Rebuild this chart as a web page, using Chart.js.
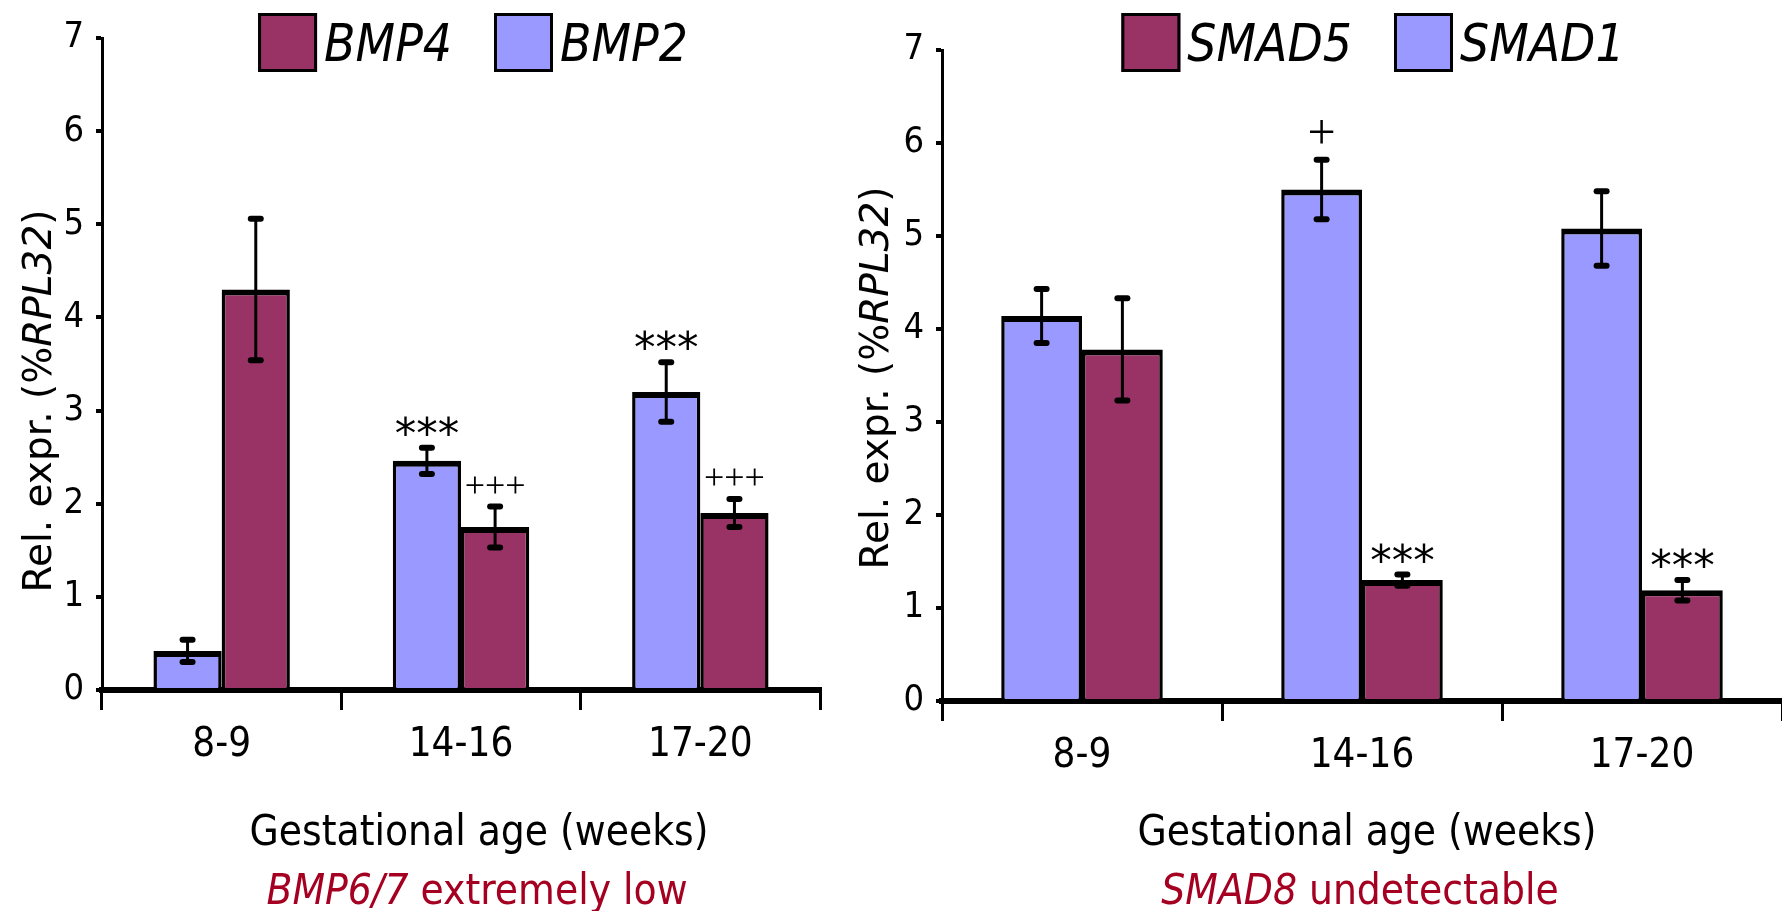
<!DOCTYPE html>
<html>
<head>
<meta charset="utf-8">
<title>BMP / SMAD</title>
<script src="https://cdn.jsdelivr.net/npm/chart.js@4.4.0/dist/chart.umd.min.js"></script>
<style>
    html, body { margin: 0; padding: 0; background: #fff; overflow: hidden; }
    #wrap { position: relative; width: 1782px; height: 911px; }
    .panel { position: absolute; top: 0; height: 911px; }
    #left { left: 0; width: 956px; }
    #right { left: 840px; width: 942px; }
    canvas { display: block; }
</style>
</head>
<body>
<div id="wrap">
    <div class="panel" id="left"><canvas id="bmpChart" width="956" height="911"></canvas></div>
    <div class="panel" id="right"><canvas id="smadChart" width="942" height="911"></canvas></div>
</div>
<script>
// Données
const categories = ['8-9', '14-16', '17-20'];
const yTicks = [0, 1, 2, 3, 4, 5, 6, 7];

const bmp2 = [0.42, 2.46, 3.20];
const bmp2Err = [0.12, 0.14, 0.32];
const bmp2Marks = ['', '***', '***'];
const bmp4 = [4.30, 1.75, 1.90];
const bmp4Err = [0.76, 0.22, 0.15];
const bmp4Marks = ['', '+++', '+++'];

const smad1 = [4.14, 5.50, 5.08];
const smad1Err = [0.29, 0.32, 0.40];
const smad1Marks = ['', '+', ''];
const smad5 = [3.78, 1.30, 1.19];
const smad5Err = [0.55, 0.06, 0.11];
const smad5Marks = ['', '***', '***'];

const BLUE = '#9999ff';
const RED = '#993366';
const NOTE = '#a50021';
const COND = '"DejaVu Sans Condensed", "DejaVu Sans", sans-serif';
const SANS = '"DejaVu Sans", sans-serif';
const SERIF = '"Liberation Serif", serif';

// Texte avec parties en italique, centré sur cx
function drawRich(ctx, parts, cx, baseY, size, family, color) {
    const fonts = parts.map(p => `${p.italic ? 'italic ' : ''}${size}px ${family}`);
    let total = 0;
    const widths = parts.map((p, k) => {
        ctx.font = fonts[k];
        const w = ctx.measureText(p.text).width;
        total += w;
        return w;
    });
    let x = cx - total / 2;
    ctx.fillStyle = color;
    ctx.textAlign = 'left';
    ctx.textBaseline = 'alphabetic';
    parts.forEach((p, k) => {
        ctx.font = fonts[k];
        ctx.fillText(p.text, x, baseY);
        x += widths[k];
    });
}

function drawLegend(chart, cx, top) {
    const ctx = chart.ctx;
    const items = chart.data.datasets.slice().reverse();
    const box = 59, gapText = 7, gapItem = 42;
    ctx.font = `italic 51px ${COND}`;
    const widths = items.map(d => ctx.measureText(d.label).width);
    const total = items.length * (box + gapText) + widths.reduce((a, b) => a + b, 0) + gapItem * (items.length - 1);
    let x = cx - total / 2;
    items.forEach((d, k) => {
        ctx.fillStyle = d.backgroundColor;
        ctx.fillRect(x, top, box, box);
        ctx.lineWidth = 3;
        ctx.strokeStyle = '#000';
        ctx.strokeRect(x + 1.5, top + 1.5, box - 3, box - 3);
        x += box + gapText;
        ctx.fillStyle = '#000';
        ctx.textAlign = 'left';
        ctx.textBaseline = 'alphabetic';
        ctx.font = `italic 51px ${COND}`;
        ctx.fillText(d.label, x, top + 48);
        x += widths[k] + gapItem;
    });
}

const extrasPlugin = {
    id: 'extras',
    afterDatasetsDraw(chart) {
        const ctx = chart.ctx;
        const yScale = chart.scales.y;
        chart.data.datasets.forEach((ds, di) => {
            const meta = chart.getDatasetMeta(di);
            meta.data.forEach((bar, i) => {
                const x = bar.x;
                const yTop = yScale.getPixelForValue(ds.data[i] + ds.errors[i]);
                const yBot = yScale.getPixelForValue(ds.data[i] - ds.errors[i]);
                ctx.save();
                ctx.strokeStyle = '#000';
                ctx.lineWidth = 3;
                ctx.beginPath();
                ctx.moveTo(x, yTop);
                ctx.lineTo(x, yBot);
                ctx.stroke();
                ctx.lineWidth = 6;
                ctx.lineCap = 'round';
                [yTop, yBot].forEach(yy => {
                    ctx.beginPath();
                    ctx.moveTo(x - 5, yy);
                    ctx.lineTo(x + 5, yy);
                    ctx.stroke();
                });
                // étoiles / croix de significativité
                const mark = ds.marks[i];
                if (mark) {
                    const isPlus = mark.startsWith('+');
                    const size = isPlus ? (mark.length === 1 ? 50 : 36) : 43;
                    ctx.font = `${size}px ${isPlus ? SERIF : SANS}`;
                    ctx.textAlign = 'center';
                    ctx.textBaseline = 'alphabetic';
                    const m = ctx.measureText(mark);
                    const centerY = yTop - (mark.length === 1 ? 28 : 22);
                    const base = centerY + (m.actualBoundingBoxAscent - m.actualBoundingBoxDescent) / 2;
                    ctx.fillStyle = '#000';
                    ctx.fillText(mark, x, base);
                }
                ctx.restore();
            });
        });
    },
    afterDraw(chart) {
        const o = chart.options.plugins.extras;
        const ctx = chart.ctx;
        ctx.save();
        drawLegend(chart, o.legendX, 13);
        drawRich(ctx, [{ text: 'Gestational age (weeks)' }], o.xTitleX, 845, 42, COND, '#000');
        drawRich(ctx, o.note, o.noteX, 904, 42, COND, NOTE);
        ctx.translate(o.yTitleX, o.yTitleY);
        ctx.rotate(-Math.PI / 2);
        drawRich(ctx, [{ text: 'Rel. expr. (%' }, { text: 'RPL32', italic: true }, { text: ')' }], 0, 0, 39, SANS, '#000');
        ctx.restore();
    }
};

function makeOptions(extras, chartTop, chartBottom, padRight, catPct) {
    return {
        responsive: false,
        animation: false,
        events: [],
        datasets: { bar: { categoryPercentage: catPct, barPercentage: 1.0 } },
        layout: { padding: { left: 0, right: padRight, top: chartTop, bottom: 0 } },
        plugins: { legend: { display: false }, tooltip: { enabled: false }, extras: extras },
        scales: {
            x: {
                grid: { offset: true, drawOnChartArea: false, drawTicks: true, tickLength: 20, lineWidth: 3, color: '#000' },
                border: { display: true, width: 6, color: '#000' },
                ticks: { color: '#000', font: { family: COND, size: 40 }, padding: 12, maxRotation: 0 },
                afterFit: s => { s.height = 911 - chartBottom; }
            },
            y: {
                min: 0,
                max: 7,
                afterBuildTicks: s => { s.ticks = yTicks.map(v => ({ value: v })); },
                grid: { drawOnChartArea: false, tickLength: 6, lineWidth: 4, color: '#000' },
                border: { width: 3, color: '#000' },
                ticks: { color: '#000', font: { family: COND, size: 36 }, padding: 12 },
                afterFit: s => { s.width = 102; }
            }
        }
    };
}

function barStyle(color) {
    return {
        backgroundColor: color,
        borderColor: '#000',
        borderWidth: { top: 6, left: 3.5, right: 3.5, bottom: 0 }
    };
}

new Chart(document.getElementById('bmpChart'), {
    type: 'bar',
    data: {
        labels: categories,
        datasets: [
            Object.assign({ label: 'BMP2', data: bmp2, errors: bmp2Err, marks: bmp2Marks }, barStyle(BLUE)),
            Object.assign({ label: 'BMP4', data: bmp4, errors: bmp4Err, marks: bmp4Marks }, barStyle(RED))
        ]
    },
    options: makeOptions({
        legendX: 473,
        xTitleX: 479,
        noteX: 477,
        note: [{ text: 'BMP6/7', italic: true }, { text: ' extremely low' }],
        yTitleX: 51,
        yTitleY: 401
    }, 38, 690, 956 - 820, 0.57),
    plugins: [extrasPlugin]
});

new Chart(document.getElementById('smadChart'), {
    type: 'bar',
    data: {
        labels: categories,
        datasets: [
            Object.assign({ label: 'SMAD1', data: smad1, errors: smad1Err, marks: smad1Marks }, barStyle(BLUE)),
            Object.assign({ label: 'SMAD5', data: smad5, errors: smad5Err, marks: smad5Marks }, barStyle(RED))
        ]
    },
    options: makeOptions({
        legendX: 533,
        xTitleX: 527,
        noteX: 520,
        note: [{ text: 'SMAD8', italic: true }, { text: ' undetectable' }],
        yTitleX: 48,
        yTitleY: 378
    }, 50, 701, 0, 0.577),
    plugins: [extrasPlugin]
});
</script>
</body>
</html>
